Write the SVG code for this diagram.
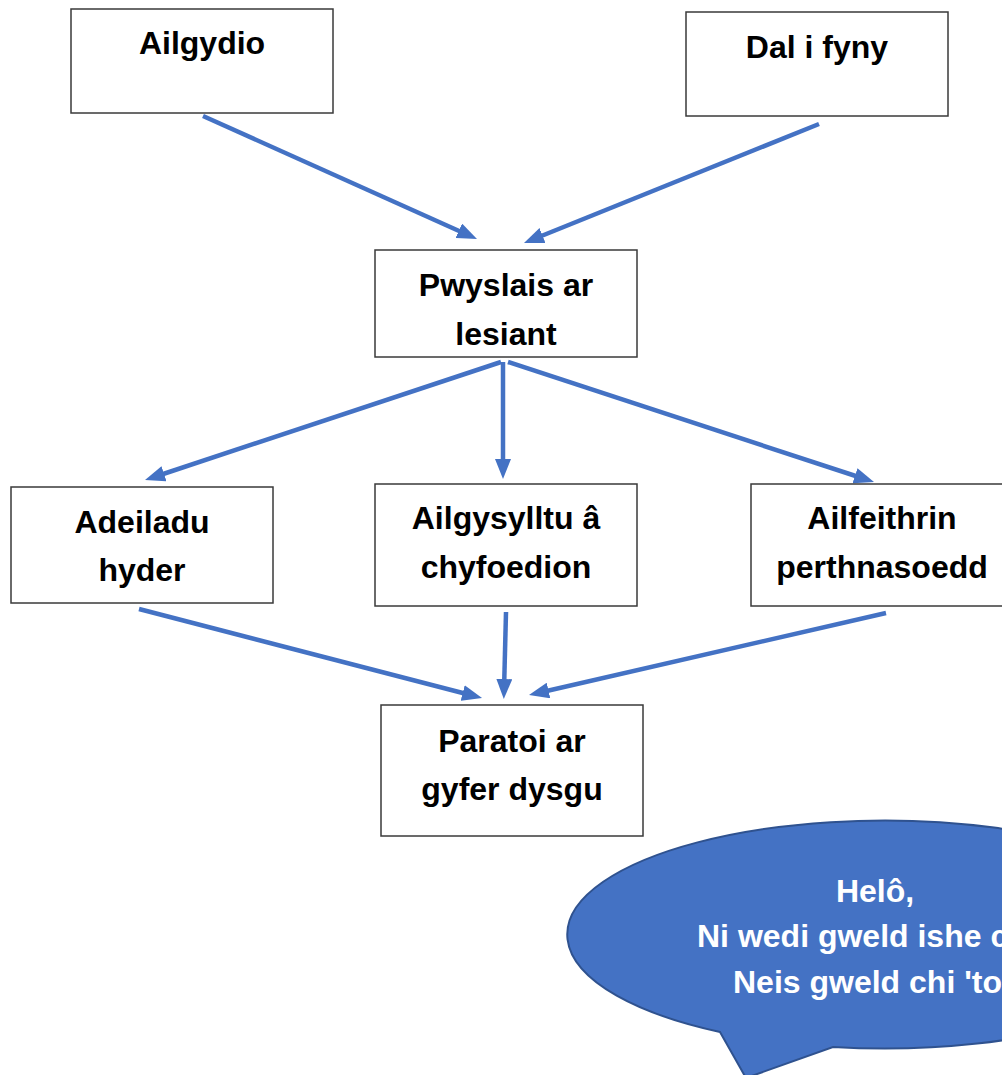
<svg xmlns="http://www.w3.org/2000/svg" width="1002" height="1075" viewBox="0 0 1002 1075">
<style>
.box{fill:#fff;stroke:#3a3a3a;stroke-width:1.5}
.lbl{font-family:"Liberation Sans",Arial,sans-serif;font-weight:bold;font-size:32px;fill:#000;text-anchor:middle}
.con{stroke:#4472C4;stroke-width:4.5;fill:none;marker-end:url(#ah)}
.bub{fill:#4472C4;stroke:#2F528F;stroke-width:2}
.btx{font-family:"Liberation Sans",Arial,sans-serif;font-weight:bold;font-size:32px;fill:#fff}
</style>
<defs>
<marker id="ah" markerUnits="userSpaceOnUse" markerWidth="20" markerHeight="16" refX="12" refY="8" orient="auto">
<path d="M0,0 L20,8 L0,16 z" fill="#4472C4"/>
</marker>
</defs>
<rect width="1002" height="1075" fill="#fff"/>
<g id="connectors">
<line class="con" x1="203" y1="116" x2="469.7" y2="235.7"/>
<line class="con" x1="819" y1="124" x2="531.4" y2="240"/>
<line class="con" x1="501" y1="362" x2="152.6" y2="477.5"/>
<line class="con" x1="503" y1="362" x2="503" y2="471"/>
<line class="con" x1="508" y1="362" x2="866.4" y2="479.5"/>
<line class="con" x1="139" y1="609" x2="474.3" y2="696"/>
<line class="con" x1="506" y1="612" x2="504" y2="691"/>
<line class="con" x1="886" y1="613" x2="536.8" y2="693.2"/>
</g>
<g id="ailgydio">
<rect class="box" x="71" y="9" width="262" height="104"/>
<text class="lbl" x="202" y="54">Ailgydio</text>
</g>
<g id="dal-i-fyny">
<rect class="box" x="686" y="12" width="262" height="104"/>
<text class="lbl" x="817" y="58">Dal i fyny</text>
</g>
<g id="pwyslais">
<rect class="box" x="375" y="250" width="262" height="107"/>
<text class="lbl" x="506" y="296">Pwyslais ar</text>
<text class="lbl" x="506" y="345">lesiant</text>
</g>
<g id="adeiladu">
<rect class="box" x="11" y="487" width="262" height="116"/>
<text class="lbl" x="142" y="533">Adeiladu</text>
<text class="lbl" x="142" y="581">hyder</text>
</g>
<g id="ailgysylltu">
<rect class="box" x="375" y="484" width="262" height="122"/>
<text class="lbl" x="506" y="529">Ailgysylltu â</text>
<text class="lbl" x="506" y="578">chyfoedion</text>
</g>
<g id="ailfeithrin">
<rect class="box" x="751" y="484" width="262" height="122"/>
<text class="lbl" x="882" y="529">Ailfeithrin</text>
<text class="lbl" x="882" y="578">perthnasoedd</text>
</g>
<g id="paratoi">
<rect class="box" x="381" y="705" width="262" height="131"/>
<text class="lbl" x="512" y="752">Paratoi ar</text>
<text class="lbl" x="512" y="800">gyfer dysgu</text>
</g>
<g id="speech-bubble">
<path class="bub" d="M720,1032 L746,1078 L833,1047 A317 114 0 1 0 720,1032 Z"/>
<text class="btx" x="875" y="902" text-anchor="middle">Helô,</text>
<text class="btx" x="697" y="947">Ni wedi gweld ishe c</text>
<text class="btx" x="733" y="993">Neis gweld chi 'to</text>
</g>
</svg>
